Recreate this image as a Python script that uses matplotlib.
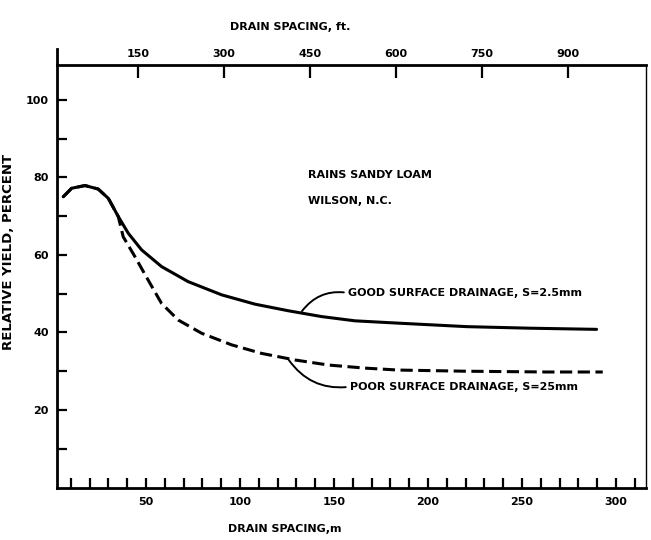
import matplotlib
matplotlib.use('Agg')
import matplotlib.pyplot as plt

# Datos (espaciamiento en m, rendimiento relativo en %)
spacing_good = [6.0, 10.5, 17.6, 24.6, 30.0, 35.3, 40.6, 47.7, 58.3, 72.5, 90.3, 108.0, 125.7, 143.4,
                161.2, 184.2, 220.6, 254, 289.7]
yield_good = [75.0, 77.2, 77.9, 77.0, 74.6, 69.9, 65.6, 61.3, 57.0, 53.1, 49.7, 47.3, 45.6, 44.1,
              43.0, 42.4, 41.5, 41.1, 40.8]

spacing_poor = [6.0, 10.5, 17.6, 24.6, 30.0, 35.3, 37.9, 44.1, 51.2, 58.3, 67.2, 79.6, 95.6, 111.5,
                129.3, 147.0, 166.5, 184.2, 220, 263, 293]
yield_poor = [75.0, 77.2, 77.9, 77.0, 74.6, 69.9, 64.7, 59.6, 53.5, 47.5, 43.2, 39.8, 36.8, 34.6,
              32.9, 31.6, 30.8, 30.3, 30.0, 29.8, 29.8]

m_ticks = [50, 100, 150, 200, 250, 300]
ft_ticks = [150, 300, 450, 600, 750, 900]
y_ticks = [20, 40, 60, 80, 100]

plt.rcParams['font.family'] = ['DejaVu Sans']
plt.rcParams['font.weight'] = 'bold'
plt.rcParams['axes.labelweight'] = 'bold'

fig = plt.figure(figsize=(6.51, 5.4), dpi=100)
ax = fig.add_axes([57 / 651, 1 - 487.5 / 540, (646 - 57) / 651, (487.5 - 65) / 540])

ax.plot(spacing_good, yield_good, color='black', lw=2.2, solid_capstyle='round')
ax.plot(spacing_poor, yield_poor, color='black', lw=2.2, dashes=(4, 1.8))

ax.set_xlim(2.7, 316)
ax.set_ylim(0, 109)

# ejes
ax.spines['top'].set_visible(False)
ax.spines['left'].set_linewidth(2.0)
ax.spines['left'].set_bounds(0, 113)
ax.spines['bottom'].set_linewidth(2.0)
ax.spines['right'].set_linewidth(1.0)

ax.set_xticks(m_ticks)
ax.set_xticks(range(10, 320, 10), minor=True)
ax.set_yticks(y_ticks)
ax.set_yticks(range(10, 110, 10), minor=True)
ax.set_xticklabels([str(t) for t in m_ticks])
ax.set_yticklabels([str(t) for t in y_ticks])
ax.tick_params(axis='x', which='both', direction='in', length=7, width=1.6, labelsize=8, pad=7)
ax.tick_params(axis='y', which='both', direction='in', length=7, width=1.6, labelsize=8, pad=6)
ax.tick_params(right=False, which='both')

ax.set_xlabel('DRAIN SPACING,m', fontsize=8, labelpad=12)
ax.xaxis.label.set_x(0.387)
ax.set_ylabel('RELATIVE YIELD, PERCENT', fontsize=9.5, labelpad=8)
ax.yaxis.label.set_y(0.557)

# eje superior en pies
sec = ax.secondary_xaxis('top', functions=(lambda m: m / 0.3048, lambda f: f * 0.3048))
sec.set_xticks(ft_ticks)
sec.set_xticklabels([str(t) for t in ft_ticks])
sec.tick_params(direction='in', length=9, width=1.6, labelsize=8, pad=4)
sec.spines['top'].set_linewidth(2.0)
sec.set_xlabel('DRAIN SPACING, ft.', fontsize=8, labelpad=14)
sec.xaxis.label.set_x(0.396)

# textos
ax.text(136, 80.5, 'RAINS SANDY LOAM', fontsize=8, va='center')
ax.text(136, 74.0, 'WILSON, N.C.', fontsize=8, va='center')

ax.annotate('GOOD SURFACE DRAINAGE, S=2.5mm', xy=(133, 45.5), xytext=(157.5, 50.2),
            fontsize=8, va='center',
            arrowprops=dict(arrowstyle='-', lw=1.4, color='black', relpos=(0, 0.5),
                            connectionstyle='arc3,rad=0.3', shrinkA=1, shrinkB=0))
ax.annotate('POOR SURFACE DRAINAGE, S=25mm', xy=(126, 32.9), xytext=(158.5, 26.0),
            fontsize=8, va='center',
            arrowprops=dict(arrowstyle='-', lw=1.4, color='black', relpos=(0, 0.5),
                            connectionstyle='arc3,rad=-0.3', shrinkA=1, shrinkB=0))

plt.savefig('out.png', dpi=100)
